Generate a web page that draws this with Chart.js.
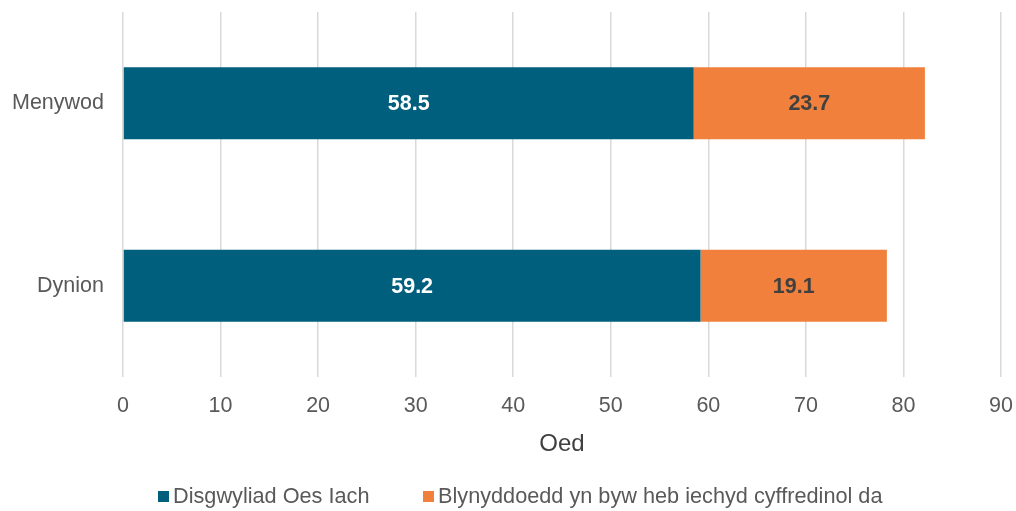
<!DOCTYPE html>
<html>
<head>
<meta charset="utf-8">
<script src="https://cdn.jsdelivr.net/npm/chart.js@4/dist/chart.umd.min.js"></script>
<style>
  html, body { margin: 0; padding: 0; background: #fff; }
  #wrap { width: 1016px; height: 511px; position: relative; }
</style>
</head>
<body>
<div id="wrap"><canvas id="myChart"></canvas></div>
<script>
// data
var categories = ["Menywod", "Dynion"];
var healthyLife = [58.5, 59.2];
var notGoodHealth = [23.7, 19.1];
var seriesNames = ["Disgwyliad Oes Iach", "Blynyddoedd yn byw heb iechyd cyffredinol da"];
var seriesColors = ["#005F7D", "#F0803C"];
var xTicksMax = 90;
var axisTitle = "Oed";

var FONT = "'Liberation Sans', Arial, sans-serif";
Chart.defaults.font.family = FONT;
Chart.defaults.color = "#595959";

// labels in the middle of each bar
var barLabels = {
  id: 'barLabels',
  afterDatasetsDraw: function(chart) {
    var ctx = chart.ctx;
    ctx.save();
    ctx.font = "bold 21.5px " + FONT;
    ctx.textAlign = "center";
    ctx.textBaseline = "middle";
    chart.data.datasets.forEach(function(ds, i) {
      var meta = chart.getDatasetMeta(i);
      ctx.fillStyle = i == 0 ? "#ffffff" : "#404040";
      meta.data.forEach(function(bar, j) {
        var p = bar.getProps(['x', 'y', 'base'], true);
        ctx.fillText(ds.data[j].toFixed(1), (p.x + p.base) / 2, p.y + 1);
      });
    });
    ctx.restore();
  }
};

// simple legend at the bottom, square box right next to the text
var bottomLegend = {
  id: 'bottomLegend',
  afterDraw: function(chart) {
    var ctx = chart.ctx;
    ctx.save();
    ctx.font = "21.7px " + FONT;
    ctx.textBaseline = "middle";
    ctx.textAlign = "left";
    var y = 497;
    var xs = [158, 423];
    chart.data.datasets.forEach(function(ds, i) {
      ctx.fillStyle = ds.backgroundColor;
      ctx.fillRect(xs[i], y - 6, 11, 11);
      ctx.fillStyle = "#595959";
      ctx.fillText(ds.label, xs[i] + 15, y);
    });
    ctx.restore();
  }
};

var ctx = document.getElementById('myChart').getContext('2d');
var myChart = new Chart(ctx, {
  type: 'bar',
  data: {
    labels: categories,
    datasets: [
      {
        label: seriesNames[0],
        data: healthyLife,
        backgroundColor: seriesColors[0],
        barPercentage: 0.79,
        categoryPercentage: 0.5
      },
      {
        label: seriesNames[1],
        data: notGoodHealth,
        backgroundColor: seriesColors[1],
        barPercentage: 0.79,
        categoryPercentage: 0.5
      }
    ]
  },
  options: {
    indexAxis: 'y',
    responsive: true,
    maintainAspectRatio: false,
    animation: false,
    layout: { padding: { top: 12, right: 15, left: 0, bottom: 49 } },
    scales: {
      x: {
        stacked: true,
        min: 0,
        max: xTicksMax,
        ticks: { stepSize: 10, font: { size: 21.5 }, color: "#595959", padding: 16 },
        grid: { color: "#d9d9d9", lineWidth: 1.5, drawTicks: false },
        border: { display: false },
        title: { display: true, text: axisTitle, font: { size: 24 }, color: "#404040", padding: { top: 12, bottom: 3 } },
        afterFit: function(scale) {
          scale.height = 85;
          scale.paddingLeft = 0;
          scale.paddingRight = 0;
        }
      },
      y: {
        stacked: true,
        ticks: { font: { size: 21.5 }, color: "#595959", padding: 19 },
        grid: { display: false, drawTicks: false },
        border: { display: false },
        afterFit: function(scale) {
          scale.width = 123;
          scale.paddingTop = 0;
          scale.paddingBottom = 0;
        }
      }
    },
    plugins: {
      legend: { display: false },
      tooltip: { enabled: false }
    }
  },
  plugins: [barLabels, bottomLegend]
});
</script>
</body>
</html>
